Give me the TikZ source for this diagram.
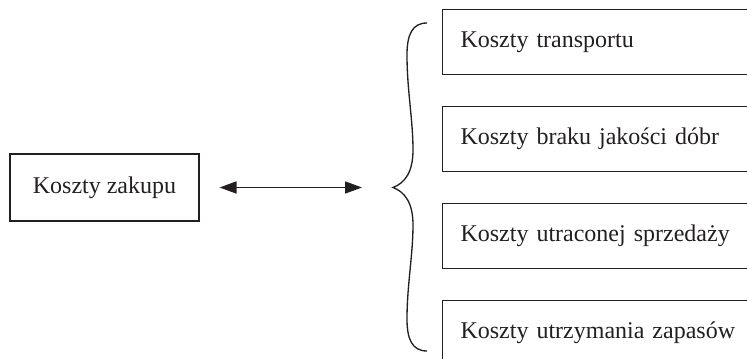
\documentclass[tikz,border=0pt]{standalone}
\usepackage{fontspec}
\setmainfont{Liberation Serif}
\usetikzlibrary{positioning,arrows.meta}
\definecolor{druk}{HTML}{231F20}
\begin{document}
\begin{tikzpicture}[x=0.75pt,y=-0.75pt,font=\fontsize{18pt}{21pt}\selectfont,color=druk,
	koszt/.style={draw,line width=0.8pt,minimum height=48.75pt,inner sep=0pt},
	prawy/.style={koszt,text width=211.5pt,inner xsep=13.5pt,align=left},
	node distance=23.25pt]
	\clip (0,0) rectangle (747,359);
	%\draw[help lines] (0,0) grid[step=50] (747,359);
	
	\node[koszt,minimum width=141.75pt,minimum height=50.25pt] (zakup) at (104.5,187.5) {Koszty zakupu};
	\node[prawy,anchor=north west] (transport) at (442,9) {Koszty transportu};
	\node[prawy,below=of transport] (jakosc) {Koszty braku jakości dóbr};
	\node[prawy,below=of jakosc] (sprzedaz) {Koszty utraconej sprzedaży};
	\node[prawy,below=of sprzedaz] (zapasy) {Koszty utrzymania zapasów};
	
	\coordinate (klamra) at (393,187.5);
	\draw[line width=1pt] (427,23) ..controls(412,23) and (407,35).. (407,55) ..controls(407,90) and (413,120).. (413,150) ..controls(413,172) and (405,183).. (klamra) ..controls(405,192) and (413,203).. (413,225) ..controls(413,255) and (407,285).. (407,319) ..controls(407,339) and (412,351).. (427,351);
	\draw[{Triangle[length=12.75pt,width=9pt]}-{Triangle[length=12.75pt,width=9pt]},line width=1.3pt,shorten <=15pt,shorten >=23.25pt] (zakup) -- (klamra);
\end{tikzpicture}
\end{document}
